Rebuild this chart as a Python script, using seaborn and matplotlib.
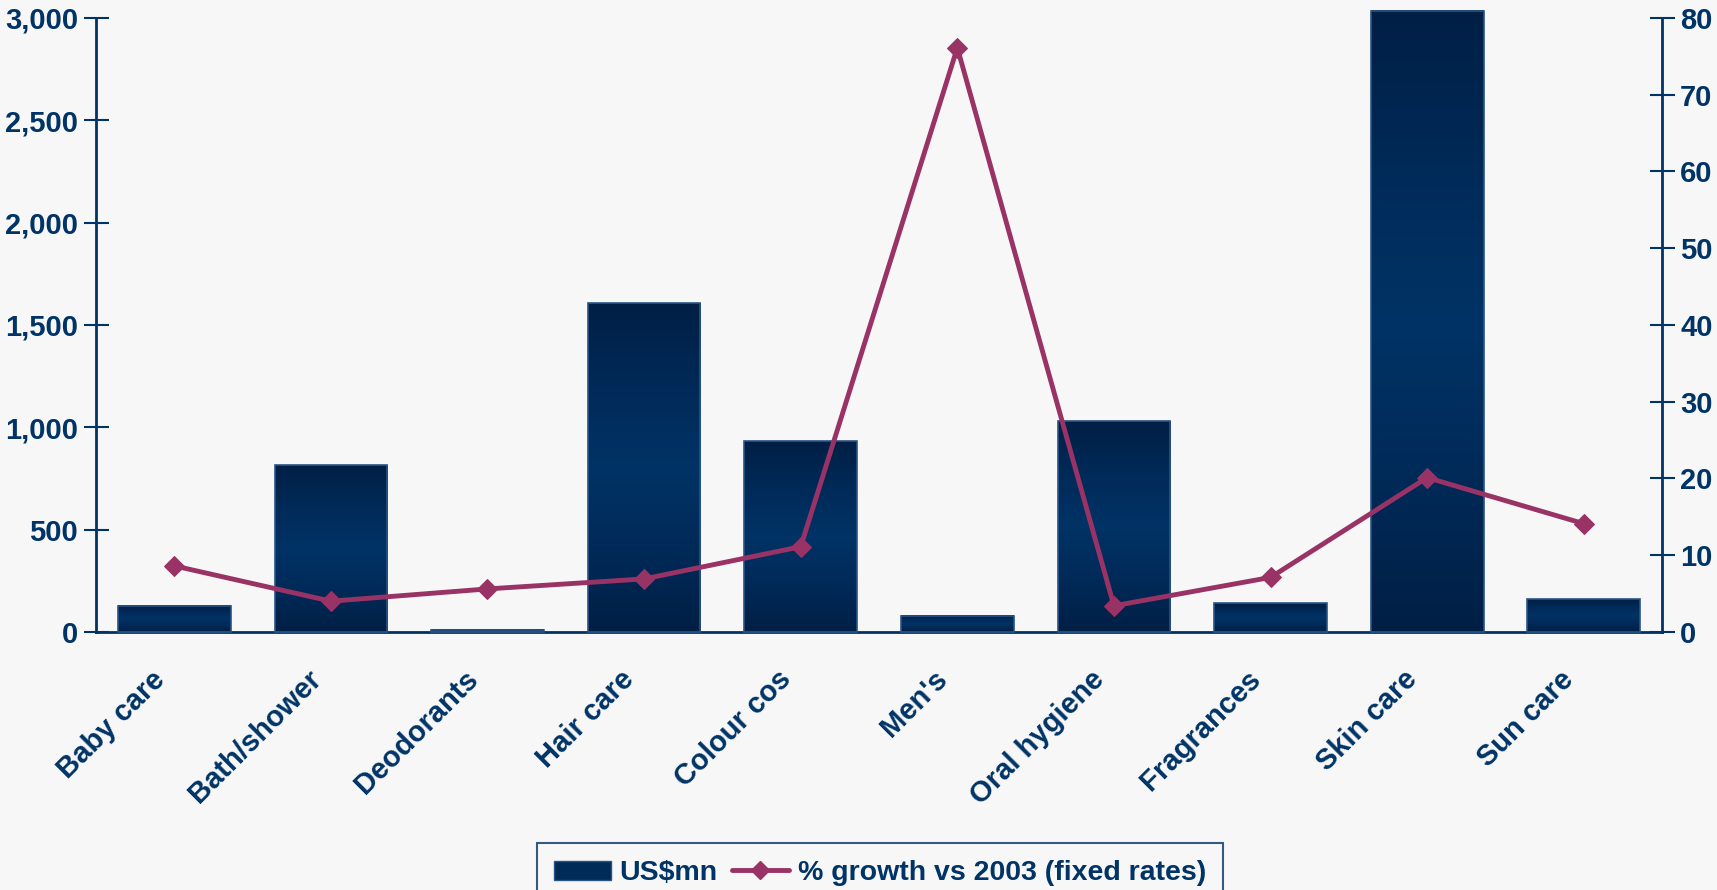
import numpy as np
import pandas as pd
import matplotlib
matplotlib.use("Agg")
import matplotlib.pyplot as plt
import matplotlib.transforms as mtransforms
import seaborn as sns
from matplotlib.colors import LinearSegmentedColormap
from matplotlib.lines import Line2D
from matplotlib.patches import Rectangle

categories = ["Baby care", "Bath/shower", "Deodorants", "Hair care", "Colour cos",
              "Men's", "Oral hygiene", "Fragrances", "Skin care", "Sun care"]
sales_usd_mn = [128, 814, 10, 1607, 932, 80, 1028, 139, 3035, 161]
growth_pct = [8.6, 4.0, 5.6, 6.9, 11.1, 76.1, 3.4, 7.1, 20.1, 14.1]
left_ticks = [0, 500, 1000, 1500, 2000, 2500, 3000]
right_ticks = [0, 10, 20, 30, 40, 50, 60, 70, 80]

NAVY = "#003366"
LINE = "#993366"
BG = "#f7f7f7"
FS = 21

df = pd.DataFrame({"category": categories, "sales": sales_usd_mn, "growth": growth_pct})

sns.set_theme(style="white")
plt.rcParams["font.family"] = ["Liberation Sans", "DejaVu Sans"]
plt.rcParams["font.weight"] = "bold"

fig = plt.figure(figsize=(17.17, 8.90), dpi=100, facecolor=BG)
ax = fig.add_axes([0.0559, 0.290, 0.9121, 0.690])
ax.set_facecolor(BG)

sns.barplot(data=df, x="category", y="sales", color=NAVY, width=0.72,
            saturation=1, ax=ax, zorder=2)

# vertical gradient fill for each bar: dark at both ends, brighter in the middle
grad_cmap = LinearSegmentedColormap.from_list(
    "bar_grad", ["#001f45", "#002a58", "#003366", "#002a58", "#001f45"])
grad = np.linspace(0, 1, 256).reshape(-1, 1)
for p in list(ax.patches):
    x0, y0 = p.get_x(), p.get_y()
    w, h = p.get_width(), p.get_height()
    p.set_facecolor("none")
    p.set_edgecolor("#2a5485")
    p.set_linewidth(1.2)
    p.set_clip_on(False)
    p.set_zorder(3)
    im = ax.imshow(grad, cmap=grad_cmap, aspect="auto",
                   extent=(x0, x0 + w, y0, y0 + h), zorder=2.5,
                   interpolation="bicubic")
    im.set_clip_path(p)
    im.set_clip_on(False)

ax.set_xlim(-0.5, len(categories) - 0.5)
ax.set_ylim(0, 3000)
ax.set_yticks(left_ticks)
ax.set_yticklabels([f"{v:,}" for v in left_ticks])

ax2 = ax.twinx()
sns.lineplot(data=df, x="category", y="growth", ax=ax2, color=LINE, linewidth=3.5,
             marker="D", markersize=10, markeredgecolor=LINE, zorder=5)
ax2.set_ylim(0, 80)
ax2.set_yticks(right_ticks)
ax2.set_xlim(-0.5, len(categories) - 0.5)

for a in (ax, ax2):
    for s in a.spines.values():
        s.set_visible(False)
    a.set_xlabel("")
    a.set_ylabel("")
ax.spines["left"].set_visible(True)
ax.spines["bottom"].set_visible(True)
ax2.spines["right"].set_visible(True)
for s in (ax.spines["left"], ax.spines["bottom"], ax2.spines["right"]):
    s.set_color(NAVY)
    s.set_linewidth(2)

# category boundary ticks along the baseline
ax.set_xticks(np.arange(len(categories) + 1) - 0.5)
ax.set_xticklabels([])
ax.tick_params(axis="x", direction="inout", length=18, width=1.5, color=NAVY)
ax.set_xticks(np.arange(len(categories)), minor=True)
ax.set_xticklabels(categories, minor=True, rotation=45, ha="right",
                   rotation_mode="anchor", fontsize=FS, fontweight="bold", color=NAVY)
ax.tick_params(axis="x", which="minor", length=0, pad=24)
shift = mtransforms.ScaledTranslation(-24 / 100, 0, fig.dpi_scale_trans)
for t in ax.get_xticklabels(minor=True):
    t.set_transform(t.get_transform() + shift)

ax.tick_params(axis="y", direction="inout", length=18, width=1.5, color=NAVY,
               labelsize=FS, labelcolor=NAVY, pad=4)
ax2.tick_params(axis="y", direction="inout", length=18, width=1.5, color=NAVY,
                labelsize=FS, labelcolor=NAVY, pad=4)
for t in ax.get_yticklabels() + ax2.get_yticklabels():
    t.set_fontweight("bold")
ax2.tick_params(axis="x", length=0)
ax2.set_xticklabels([])
ax2.set_zorder(ax.get_zorder() + 1)
ax2.patch.set_visible(False)

handles = [Rectangle((0, 0), 1, 1, facecolor="#002a58", edgecolor="#2a5485"),
           Line2D([0], [0], color=LINE, lw=3.5, marker="D", markersize=9)]
leg = fig.legend(handles, ["US$mn", "% growth vs 2003 (fixed rates)"],
                 loc="upper center", bbox_to_anchor=(0.5125, 0.062), ncol=2,
                 frameon=True, fancybox=False, fontsize=20.5, handlelength=2.0,
                 columnspacing=0.5, handletextpad=0.3, borderpad=0.6,
                 borderaxespad=0.3, facecolor=BG)
leg.get_frame().set_edgecolor(NAVY)
leg.get_frame().set_linewidth(1.5)
for t in leg.get_texts():
    t.set_color(NAVY)
    t.set_fontweight("bold")

fig.savefig("out.png", dpi=100, facecolor=BG)
